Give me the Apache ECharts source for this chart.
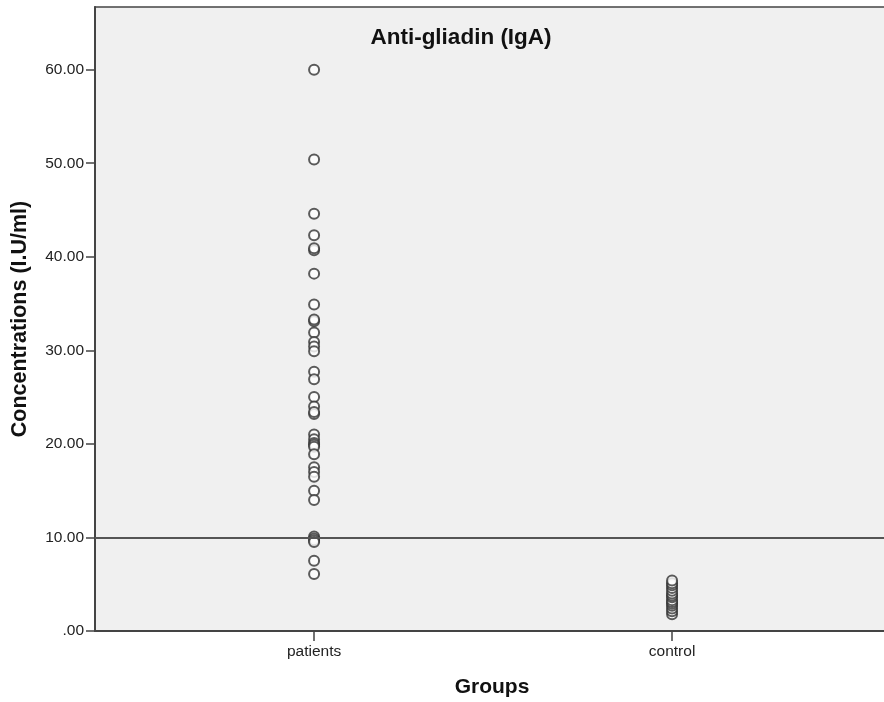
<!DOCTYPE html>
<html>
<head>
    <meta charset="utf-8">
    <title>Anti-gliadin (IgA)</title>
    <script src="https://cdn.jsdelivr.net/npm/echarts@6/dist/echarts.min.js"></script>
    <style>
        html, body { margin: 0; padding: 0; background: #fff; }
        #main { width: 884px; height: 702px; }
    </style>
</head>
<body>
<div id="main"></div>
<script>
    // groups on the x axis (1 = patients, 2 = control)
    var groups = ['patients', 'control'];
    var patients = [60.0, 50.4, 44.6, 42.3, 40.7, 40.9, 38.2, 34.9, 33.1, 33.3, 31.9, 30.9, 30.4, 29.9,
        27.7, 26.9, 25.0, 24.0, 23.2, 23.4, 21.0, 20.5, 20.1, 19.9, 19.7, 18.9, 17.5, 17.0, 16.5,
        15.0, 14.0, 10.1, 9.9, 9.7, 9.5, 7.5, 6.1];
    var control = [1.8, 2.1, 2.4, 2.7, 2.9, 3.1, 3.3, 3.6, 3.8, 4.0, 4.3, 4.6, 4.9, 5.1, 5.4];
    var yTicks = [0, 10, 20, 30, 40, 50, 60];
    var cutoff = 10;

    function toPoints(vals, g) {
        var out = [];
        for (var i = 0; i < vals.length; i++) out.push([g, vals[i]]);
        return out;
    }

    var font = 'Liberation Sans, Arial, sans-serif';
    var myChart = echarts.init(document.getElementById('main'));
    var option = {
        animation: false,
        title: {
            text: 'Anti-gliadin (IgA)',
            left: 456, top: 21, textAlign: 'center',
            textStyle: { fontFamily: font, fontSize: 22.5, fontWeight: 'bold', color: '#111' }
        },
        grid: {
            left: 95, right: -5, top: 7, bottom: 71,
            outerBoundsMode: 'none',
            show: true, backgroundColor: '#f0f0f0',
            borderColor: '#444', borderWidth: 1.5
        },
        xAxis: {
            type: 'value', min: 0.388, max: 2.606,
            name: 'Groups', nameLocation: 'middle', nameGap: 46,
            nameTextStyle: { fontFamily: font, fontSize: 21, fontWeight: 'bold', color: '#111' },
            axisLine: { lineStyle: { color: '#444', width: 2 } },
            axisTick: { show: true, length: 10, customValues: [1, 2], lineStyle: { color: '#444', width: 1.5 } },
            axisLabel: {
                customValues: [1, 2], margin: 13,
                fontFamily: font, fontSize: 15.5, color: '#222',
                formatter: function (v) { return groups[Math.round(v) - 1] || ''; }
            },
            splitLine: { show: false }
        },
        yAxis: {
            type: 'value', min: 0, max: 66.7,
            name: 'Concentrations (I.U/ml)', nameLocation: 'middle', nameGap: 64,
            nameTextStyle: { fontFamily: font, fontSize: 21.5, fontWeight: 'bold', color: '#111' },
            axisLine: { show: true, lineStyle: { color: '#444', width: 2 } },
            axisTick: { show: true, length: 9, customValues: yTicks, lineStyle: { color: '#444', width: 1.5 } },
            axisLabel: {
                customValues: yTicks, margin: 11,
                fontFamily: font, fontSize: 15.5, color: '#222',
                formatter: function (v) {
                    var s = v.toFixed(2);
                    return s.indexOf('0.') === 0 ? s.substring(1) : s;
                }
            },
            splitLine: { show: false }
        },
        series: [
            {
                name: 'patients', type: 'scatter',
                data: toPoints(patients, 1),
                symbol: 'emptyCircle', symbolSize: 10,
                itemStyle: { color: '#333', borderColor: '#333', borderWidth: 1.4 },
                markLine: {
                    silent: true, symbol: 'none', label: { show: false },
                    lineStyle: { color: '#555', width: 2, type: 'solid' },
                    data: [{ yAxis: cutoff }]
                }
            },
            {
                name: 'control', type: 'scatter',
                data: toPoints(control, 2),
                symbol: 'emptyCircle', symbolSize: 10,
                itemStyle: { color: '#333', borderColor: '#333', borderWidth: 1.4 }
            }
        ]
    };
    myChart.setOption(option);
</script>
</body>
</html>
